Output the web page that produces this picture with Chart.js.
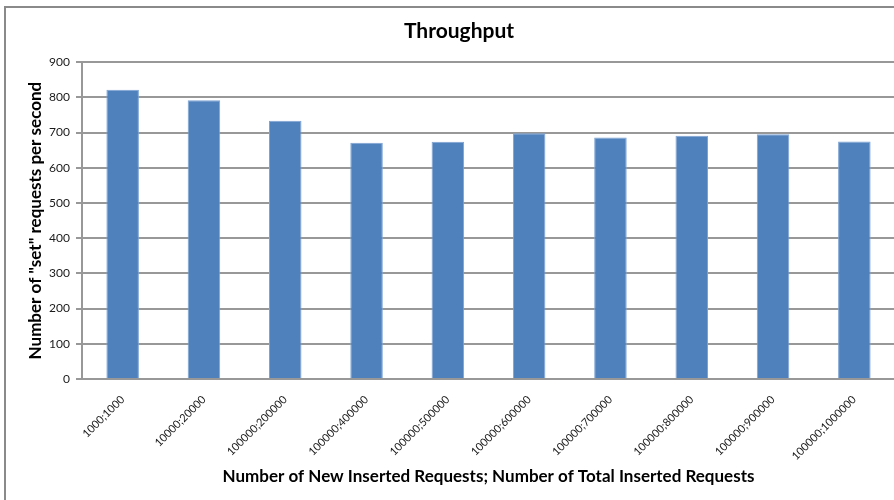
<!DOCTYPE html>
<html>
<head>
<meta charset="utf-8">
<script src="https://cdn.jsdelivr.net/npm/chart.js@4"></script>
<style>
  html, body { margin: 0; padding: 0; overflow: hidden; background: #ffffff; width: 894px; height: 500px; }
  #frame { position: absolute; left: 4px; top: 6px; width: 910px; height: 500px; border: 2px solid #8a8a8a; background: #ffffff; }
  #chart { display: block; }
</style>
</head>
<body>
<div id="frame"><canvas id="chart" width="910" height="494"></canvas></div>
<script>
// Insert-throughput benchmark: new inserted ; total inserted requests
const categories = [
  "1000;1000", "10000;20000", "100000;200000", "100000;400000", "100000;500000",
  "100000;600000", "100000;700000", "100000;800000", "100000;900000", "100000;1000000"
];
const setRequestsPerSecond = [822, 792, 734, 671, 674, 698, 686, 691, 695, 675];
const yTicks = [0, 100, 200, 300, 400, 500, 600, 700, 800, 900];

const FONT = 'Lato, "Open Sans", sans-serif';
const GRID = '#989898';

new Chart(document.getElementById('chart'), {
  type: 'bar',
  data: {
    labels: categories,
    datasets: [{
      label: 'Throughput',
      data: setRequestsPerSecond,
      backgroundColor: '#4f81bd',
      borderColor: '#7da3d3',
      borderWidth: 1,
      categoryPercentage: 1,
      barPercentage: 0.4
    }]
  },
  options: {
    responsive: false,
    animation: false,
    layout: { padding: { top: 0, left: 17, right: 21, bottom: 10 } },
    plugins: {
      legend: { display: false },
      tooltip: { enabled: false },
      title: {
        display: true,
        text: 'Throughput',
        color: '#000000',
        font: { family: FONT, size: 21, weight: 'bold' },
        padding: { top: 11, bottom: 18 }
      }
    },
    scales: {
      x: {
        grid: { display: false },
        border: { display: true, color: GRID, width: 2 },
        ticks: {
          color: '#1a1a1a',
          font: { family: FONT, size: 11 },
          minRotation: 45,
          maxRotation: 45,
          padding: 6
        },
        title: {
          display: true,
          text: 'Number of New Inserted Requests; Number of Total Inserted Requests',
          color: '#000000',
          font: { family: FONT, size: 17, weight: 'bold' },
          padding: { top: 0, bottom: 5 }
        },
        afterFit(scale) { scale.height = 113; }
      },
      y: {
        min: 0,
        max: 900,
        afterBuildTicks(scale) { scale.ticks = yTicks.map(v => ({ value: v })); },
        grid: { color: GRID, lineWidth: 2, tickLength: 6, drawTicks: true },
        border: { display: true, color: GRID, width: 2 },
        ticks: {
          color: '#1a1a1a',
          font: { family: FONT, size: 12 },
          padding: 6
        },
        title: {
          display: true,
          text: 'Number of "set" requests per second',
          color: '#000000',
          font: { family: FONT, size: 17, weight: 'bold' },
          padding: { top: 2, bottom: 0 }
        },
        afterFit(scale) { scale.width = 59; }
      }
    }
  }
});
</script>
</body>
</html>
